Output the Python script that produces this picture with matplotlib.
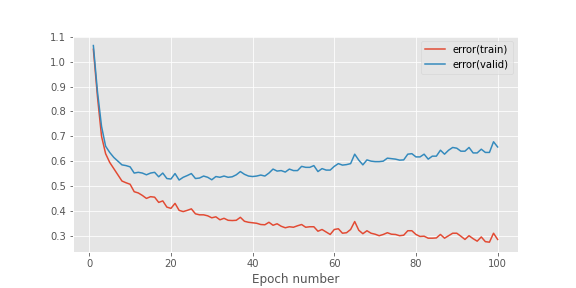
import matplotlib
matplotlib.use("Agg")
import matplotlib.pyplot as plt
import numpy as np

plt.style.use("ggplot")

epochs = np.arange(1, 101)

# error(train)
err_train = [
    1.05, 0.86, 0.70, 0.63, 0.595, 0.57, 0.545, 0.52, 0.513, 0.507,
    0.477, 0.472, 0.462, 0.45, 0.457, 0.455, 0.434, 0.44, 0.415, 0.41,
    0.43, 0.402, 0.397, 0.402, 0.408, 0.388, 0.384, 0.384, 0.38, 0.372,
    0.376, 0.364, 0.37, 0.362, 0.361, 0.362, 0.374, 0.358, 0.354, 0.352,
    0.35, 0.345, 0.344, 0.354, 0.342, 0.348, 0.338, 0.332, 0.336, 0.334,
    0.34, 0.345, 0.334, 0.336, 0.336, 0.318, 0.325, 0.315, 0.305, 0.325,
    0.328, 0.31, 0.312, 0.325, 0.357, 0.322, 0.308, 0.32, 0.31, 0.306,
    0.30, 0.305, 0.312, 0.306, 0.305, 0.30, 0.302, 0.32, 0.32, 0.305,
    0.297, 0.298, 0.29, 0.29, 0.291, 0.305, 0.29, 0.30, 0.31, 0.31,
    0.298, 0.285, 0.30, 0.288, 0.278, 0.295, 0.276, 0.274, 0.31, 0.285,
]

# error(valid)
err_valid = [
    1.065, 0.88, 0.74, 0.66, 0.635, 0.615, 0.60, 0.585, 0.582, 0.577,
    0.552, 0.555, 0.552, 0.545, 0.552, 0.555, 0.537, 0.552, 0.53, 0.528,
    0.55, 0.524, 0.535, 0.542, 0.55, 0.53, 0.532, 0.54, 0.535, 0.525,
    0.538, 0.535, 0.54, 0.535, 0.537, 0.545, 0.558, 0.547, 0.54, 0.538,
    0.54, 0.544, 0.54, 0.552, 0.568, 0.56, 0.562, 0.556, 0.568, 0.562,
    0.562, 0.579, 0.575, 0.575, 0.582, 0.558, 0.57, 0.564, 0.564, 0.579,
    0.59, 0.584, 0.586, 0.59, 0.628, 0.604, 0.585, 0.605, 0.60, 0.598,
    0.598, 0.60, 0.612, 0.61, 0.608, 0.604, 0.605, 0.628, 0.63, 0.617,
    0.617, 0.628, 0.608, 0.62, 0.62, 0.644, 0.628, 0.644, 0.655, 0.652,
    0.64, 0.64, 0.655, 0.633, 0.633, 0.648, 0.635, 0.635, 0.678, 0.657,
]

fig = plt.figure(figsize=(8, 4), dpi=72)
ax = fig.add_subplot(111)
fig.subplots_adjust(left=0.127, right=0.899, bottom=0.125, top=0.876)

ax.plot(epochs, err_train, label="error(train)")
ax.plot(epochs, err_valid, label="error(valid)")
ax.legend(loc=0)
ax.set_xlabel("Epoch number")

fig.savefig("out.png", dpi=72)
